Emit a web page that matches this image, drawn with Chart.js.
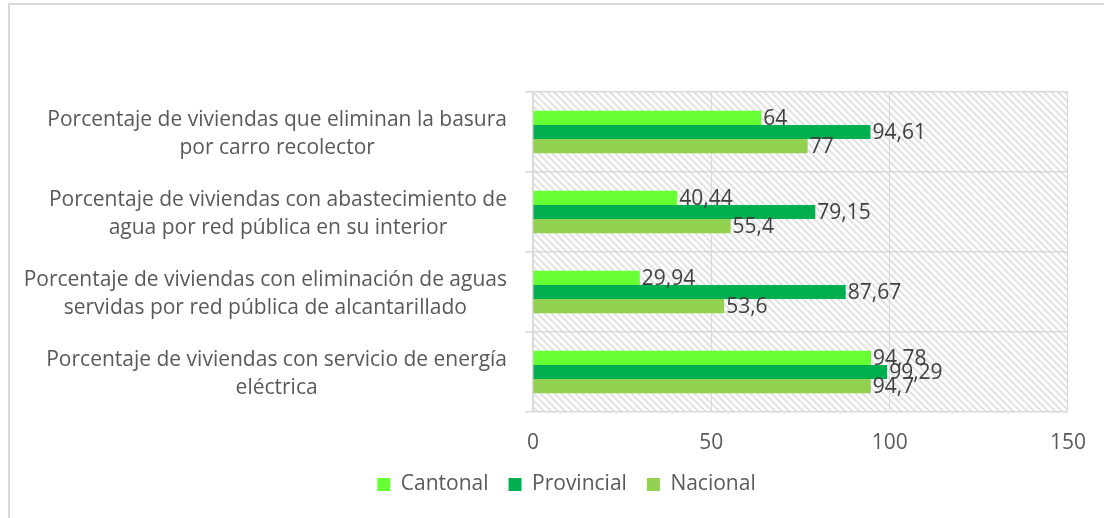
<!DOCTYPE html>
<html>
<head>
<meta charset="utf-8">
<style>
  html, body { margin: 0; padding: 0; background: #ffffff; }
  #wrap { position: relative; width: 1104px; height: 518px; }
</style>
<script src="https://cdn.jsdelivr.net/npm/chart.js@4/dist/chart.umd.min.js"></script>
</head>
<body>
<div id="wrap"><canvas id="c" width="1104" height="518"></canvas></div>
<script>
// Indicator names (each entry is one label, split into its lines)
const categories = [
  ["Porcentaje de viviendas que eliminan la basura", "por carro recolector"],
  ["Porcentaje de viviendas con abastecimiento de", "agua por red pública en su interior"],
  ["Porcentaje de viviendas con eliminación de aguas", "servidas por red pública de alcantarillado"],
  ["Porcentaje de viviendas con servicio de energía", "eléctrica"]
];
const seriesNames = ["Cantonal", "Provincial", "Nacional"];
const cantonal   = [64, 40.44, 29.94, 94.78];
const provincial = [94.61, 79.15, 87.67, 99.29];
const nacional   = [77, 55.4, 53.6, 94.7];
const xTicks = [0, 50, 100, 150];

const FONT = "'Open Sans', 'Liberation Sans', sans-serif";
const FSIZE = 21;
const GRID = '#d9d9d9';
const TEXT = '#595959';

// Diagonal hatch used behind the bars
function makeHatch() {
  const s = 7;
  const pc = document.createElement('canvas');
  pc.width = s; pc.height = s;
  const g = pc.getContext('2d');
  g.fillStyle = '#ffffff';
  g.fillRect(0, 0, s, s);
  g.strokeStyle = '#e2e2e2';
  g.lineWidth = 2;
  g.beginPath();
  for (let k = -1; k <= 1; k++) {
    g.moveTo(k * s - 2, -2);
    g.lineTo(k * s + s + 2, s + 2);
  }
  g.stroke();
  return g.createPattern(pc, 'repeat');
}

const fmt = v => String(v).replace('.', ',');

const framePlugin = {
  id: 'frame',
  beforeDraw(chart) {
    const ctx = chart.ctx;
    const a = chart.chartArea;
    ctx.save();
    // outer frame (top and left edges)
    ctx.strokeStyle = GRID;
    ctx.lineWidth = 2;
    ctx.beginPath();
    ctx.moveTo(9, chart.height + 2);
    ctx.lineTo(9, 4);
    ctx.lineTo(chart.width + 2, 4);
    ctx.stroke();
    // hatched plot area
    ctx.fillStyle = makeHatch();
    ctx.fillRect(a.left, a.top, a.right - a.left, a.bottom - a.top);
    ctx.restore();
  }
};

const categoryLabelPlugin = {
  id: 'categoryLabels',
  afterDraw(chart) {
    const ctx = chart.ctx;
    const ys = chart.scales.y;
    const a = chart.chartArea;
    ctx.save();
    ctx.font = FSIZE + 'px ' + FONT;
    ctx.fillStyle = TEXT;
    ctx.textAlign = 'center';
    ctx.textBaseline = 'middle';
    const lh = 28;
    const right = a.left - 26;
    categories.forEach((lines, i) => {
      const w = Math.max(...lines.map(t => ctx.measureText(t).width));
      const cx = right - w / 2;
      const cy = ys.getPixelForValue(i) + 2;
      const y0 = cy - (lines.length - 1) * lh / 2;
      lines.forEach((t, j) => ctx.fillText(t, cx, y0 + j * lh));
    });
    ctx.restore();
  }
};

const valueLabelPlugin = {
  id: 'valueLabels',
  afterDatasetsDraw(chart) {
    const ctx = chart.ctx;
    ctx.save();
    ctx.font = FSIZE + 'px ' + FONT;
    ctx.fillStyle = '#404040';
    ctx.textAlign = 'left';
    ctx.textBaseline = 'middle';
    chart.data.datasets.forEach((ds, di) => {
      const meta = chart.getDatasetMeta(di);
      meta.data.forEach((bar, i) => {
        ctx.fillText(fmt(ds.data[i]), bar.x + 2, bar.y + 1);
      });
    });
    ctx.restore();
  }
};

new Chart(document.getElementById('c'), {
  type: 'bar',
  data: {
    labels: categories,
    datasets: [
      { label: seriesNames[0], data: cantonal,   backgroundColor: '#66ff33' },
      { label: seriesNames[1], data: provincial, backgroundColor: '#00b050' },
      { label: seriesNames[2], data: nacional,   backgroundColor: '#92d050' }
    ]
  },
  options: {
    indexAxis: 'y',
    responsive: false,
    animation: false,
    devicePixelRatio: 1,
    layout: { padding: { top: 92, left: 60, right: 31, bottom: 13 } },
    datasets: { bar: { barPercentage: 1, categoryPercentage: 0.53, borderWidth: 0 } },
    scales: {
      x: {
        min: 0, max: 150,
        afterBuildTicks(scale) { scale.ticks = xTicks.map(v => ({ value: v })); },
        grid: { color: GRID, lineWidth: 1, drawTicks: false },
        border: { display: false },
        ticks: { color: TEXT, font: { size: FSIZE, family: FONT }, padding: 18 },
        afterFit(scale) { scale.height = 42; }
      },
      y: {
        offset: true,
        grid: { offset: true, color: GRID, lineWidth: 1.5, drawTicks: true, tickLength: 8 },
        border: { display: true, color: GRID, width: 1.5 },
        ticks: { display: false },
        afterFit(scale) { scale.width = 473; }
      }
    },
    plugins: {
      legend: {
        position: 'bottom',
        labels: {
          boxWidth: 13, boxHeight: 13, padding: 20,
          color: TEXT, font: { size: FSIZE, family: FONT }
        }
      },
      tooltip: { enabled: false }
    }
  },
  plugins: [framePlugin, categoryLabelPlugin, valueLabelPlugin]
});
</script>
</body>
</html>
